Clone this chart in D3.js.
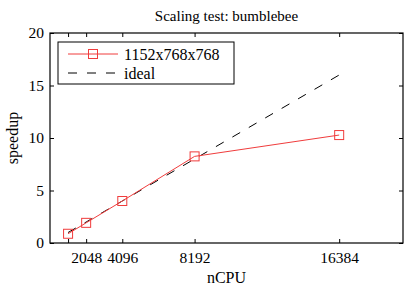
<!DOCTYPE html>
<html>
<head>
<meta charset="utf-8">
<script src="https://cdn.jsdelivr.net/npm/d3@7"></script>
<style>
  body { margin: 0; background: #fff; }
  svg { display: block; font-family: "Liberation Serif", "DejaVu Serif", serif; }
</style>
</head>
<body>
<div id="chart"></div>
<script>
const nCPU = [1024, 2048, 4096, 8192, 16384];
const speedup = [0.88, 1.92, 4.0, 8.25, 10.28];
const ideal = [1, 2, 4, 8, 16];
const xTicks = [1024, 2048, 4096, 8192, 16384];
const yTicks = [0, 5, 10, 15, 20];
const seriesName = '1152x768x768';

const W = 415, H = 294;
const margin = { top: 33, right: 12, bottom: 51, left: 50 };
const width = W - margin.left - margin.right;
const height = H - margin.top - margin.bottom;
const red = '#f03c3c';
const dash = '9,10';

const svg = d3.select('#chart').append('svg')
  .attr('width', W)
  .attr('height', H);

const g = svg.append('g')
  .attr('transform', `translate(${margin.left},${margin.top})`);

const x = d3.scaleLinear().domain([0, 20000]).range([0, width]);
const y = d3.scaleLinear().domain([0, 20]).range([height, 0]);

// axes with inward ticks on all four sides
const fmtX = d => d === 1024 ? '' : d;
g.append('g').attr('transform', `translate(0,${height})`)
  .call(d3.axisBottom(x).tickValues(xTicks).tickFormat(fmtX).tickSizeInner(-4).tickSizeOuter(0).tickPadding(9));
g.append('g')
  .call(d3.axisTop(x).tickValues(xTicks).tickFormat('').tickSizeInner(-4).tickSizeOuter(0));
g.append('g')
  .call(d3.axisLeft(y).tickValues(yTicks).tickSizeInner(-4).tickSizeOuter(0).tickPadding(6));
g.append('g').attr('transform', `translate(${width},0)`)
  .call(d3.axisRight(y).tickValues(yTicks).tickFormat('').tickSizeInner(-4).tickSizeOuter(0));

g.selectAll('.domain').remove();
g.selectAll('.tick line').attr('stroke', '#000');
g.selectAll('.tick text').attr('font-size', 15.5).attr('font-family', '"Liberation Serif", serif').attr('fill', '#000');

// frame
g.append('rect')
  .attr('width', width).attr('height', height)
  .attr('fill', 'none').attr('stroke', '#000').attr('stroke-width', 1.2);

// ideal line
g.append('path')
  .datum(nCPU.map((n, i) => [n, ideal[i]]))
  .attr('fill', 'none')
  .attr('stroke', '#000')
  .attr('stroke-width', 1)
  .attr('stroke-dasharray', dash)
  .attr('d', d3.line().x(d => x(d[0])).y(d => y(d[1])));

// measured speedup
g.append('path')
  .datum(nCPU.map((n, i) => [n, speedup[i]]))
  .attr('fill', 'none')
  .attr('stroke', red)
  .attr('stroke-width', 1)
  .attr('d', d3.line().x(d => x(d[0])).y(d => y(d[1])));

const sq = 9;
g.selectAll('.pt')
  .data(nCPU.map((n, i) => [n, speedup[i]]))
  .join('rect')
  .attr('class', 'pt')
  .attr('x', d => x(d[0]) - sq / 2)
  .attr('y', d => y(d[1]) - sq / 2)
  .attr('width', sq).attr('height', sq)
  .attr('fill', 'none')
  .attr('stroke', red)
  .attr('stroke-width', 1);

// legend
const lg = svg.append('g').attr('transform', 'translate(58,42)');
lg.append('rect')
  .attr('width', 176).attr('height', 42)
  .attr('fill', '#fff').attr('stroke', '#000').attr('stroke-width', 1);
lg.append('line')
  .attr('x1', 10).attr('x2', 60).attr('y1', 12).attr('y2', 12)
  .attr('stroke', red).attr('stroke-width', 1);
lg.append('rect')
  .attr('x', 35 - sq / 2).attr('y', 12 - sq / 2)
  .attr('width', sq).attr('height', sq)
  .attr('fill', 'none').attr('stroke', red);
lg.append('line')
  .attr('x1', 10).attr('x2', 60).attr('y1', 31).attr('y2', 31)
  .attr('stroke', '#000').attr('stroke-width', 1).attr('stroke-dasharray', dash);
lg.append('text').attr('x', 66).attr('y', 17.5).attr('font-size', 16).text(seriesName);
lg.append('text').attr('x', 66).attr('y', 36.5).attr('font-size', 16).text('ideal');

// title and axis labels
svg.append('text')
  .attr('x', margin.left + width / 2).attr('y', 21)
  .attr('text-anchor', 'middle').attr('font-size', 15)
  .text('Scaling test: bumblebee');
svg.append('text')
  .attr('x', margin.left + width / 2).attr('y', 283)
  .attr('text-anchor', 'middle').attr('font-size', 16)
  .text('nCPU');
svg.append('text')
  .attr('transform', `translate(18,${margin.top + height / 2}) rotate(-90)`)
  .attr('text-anchor', 'middle').attr('font-size', 16)
  .text('speedup');
</script>
</body>
</html>
